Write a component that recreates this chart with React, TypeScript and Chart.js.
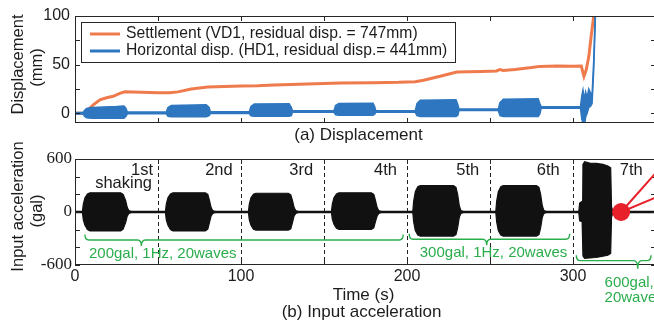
import React, { useEffect, useRef } from 'react';
import { Chart, registerables } from 'chart.js';

Chart.register(...registerables);

// ---------------- data ----------------
const xTickValues = [0, 50, 100, 150, 200, 250, 300, 350];
const xTickLabels = ['0', '', '100', '', '200', '', '300', ''];
const dispTickValues = [0, 25, 50, 75, 100];
const dispTickLabels = ['0', '', '50', '', '100'];
const accTickValues = [-600, -400, -200, 0, 200, 400, 600];
const accTickLabels = ['-600', '', '', '0', '', '', '600'];

// Settlement VD1 (mm)
const settleTime = [0, 6, 8, 11, 15, 19, 23, 27, 30, 40, 50, 57, 62, 70, 80, 90, 100, 110, 120, 130, 140, 150, 160, 180, 195, 205, 210, 220, 230, 245, 254, 256, 258, 265, 275, 280, 290, 300, 305, 306.6, 308, 309.5, 311, 312.5, 314];
const settleValue = [0, 0, 3.5, 8.7, 13.8, 16, 17.5, 20.5, 22, 21.5, 21, 21, 22, 25, 27, 27.5, 28, 28.3, 29, 29.5, 30, 30.5, 31, 31.5, 31.8, 32.5, 34, 38, 42.5, 43, 43.5, 45, 44, 45, 47, 48.2, 48.5, 48.3, 48.5, 38, 45, 58, 80, 100, 130];

// Horizontal disp. HD1 (mm): upper / lower envelope of the oscillating record
const horizTime = [0, 5, 5.7, 7, 10, 25, 29.5, 30.7, 31.5, 55, 56, 58, 79, 80.8, 81.5, 105, 106, 108, 129, 130.3, 131, 156, 157, 159, 179.5, 180.5, 181.2, 205, 206, 208, 229.5, 230.6, 231.3, 255, 256, 258, 279, 280, 280.8, 304.5, 305.3, 306, 306.8, 307.6, 308.5, 309.5, 310.5, 311.5, 312.5, 313.8];
const horizUpper = [0.8, 0.8, 3, 5, 6, 7, 7.5, 5, 1.2, 1.2, 6, 8, 8.7, 6, 1.5, 1.5, 7, 9.5, 9.7, 6, 2.6, 2.6, 8, 10, 10.4, 7, 2.6, 2.6, 10, 13.5, 13.8, 9, 4.4, 4.4, 11, 14.5, 14.9, 10, 6.8, 6.8, 18, 24, 14, 22, 16, 25, 21, 19, 55, 125];
const horizLower = [-0.8, -0.8, -3, -4.5, -5, -5, -5, -3, -0.6, -0.6, -3, -3.5, -3.5, -2.5, -0.3, -0.3, -2.5, -3, -3, -2.5, 1.0, 1.0, -1.5, -2, -2, -1, 1.0, 1.0, -2.5, -3.3, -3.3, -2, 2.8, 2.8, -2.5, -3.3, -3.3, -1, 5.2, 5.2, -6, -10, -14, -4, 0, 6, 7, 10, 45, 115];

// Input acceleration (gal): upper / lower envelope
const accTime = [0, 4.5, 5, 6, 7.5, 9, 27.5, 29, 30.5, 31.5, 32.5, 34,
  54.5, 55, 56, 57.5, 59, 78.5, 80, 81, 82, 83, 84.5,
  104.5, 105, 106, 107.5, 109, 128.5, 130, 131, 132, 133, 134.5,
  154.5, 155, 156, 157.5, 159, 178.5, 180, 181, 182, 183, 184.5,
  203.5, 204, 205, 206.5, 208, 228, 229.5, 230.5, 231.5, 232.5, 234,
  253.5, 254, 255, 256.5, 258, 278, 279.5, 280.5, 281.5, 282.5, 284,
  303.5, 304, 305.5, 306, 307, 310, 314, 318, 321, 322.7, 323.2, 324, 350];
const accUpper = [8, 8, 90, 160, 205, 218, 218, 200, 130, 50, 15, 8,
  8, 90, 160, 205, 218, 218, 200, 130, 50, 15, 8,
  8, 90, 160, 200, 212, 212, 195, 130, 50, 15, 8,
  8, 90, 160, 205, 218, 218, 200, 130, 50, 15, 8,
  8, 120, 230, 285, 298, 298, 280, 200, 70, 15, 8,
  8, 120, 230, 285, 298, 298, 280, 200, 70, 15, 8,
  8, 100, 120, 540, 570, 555, 550, 540, 520, 500, 60, 8, 8];
const accLower = [-8, -8, -90, -150, -200, -215, -215, -195, -120, -45, -15, -8,
  -8, -90, -150, -200, -215, -215, -195, -120, -45, -15, -8,
  -8, -90, -150, -195, -205, -205, -190, -120, -45, -15, -8,
  -8, -80, -140, -185, -196, -196, -180, -110, -45, -15, -8,
  -8, -110, -210, -260, -272, -272, -255, -180, -60, -15, -8,
  -8, -110, -210, -260, -272, -272, -255, -180, -60, -15, -8,
  -8, -100, -110, -500, -524, -520, -515, -500, -490, -470, -60, -8, -8];

const shakingNames = ['1st', '2nd', '3rd', '4th', '5th', '6th', '7th'];
const shakingLabelX = [47, 95, 143.5, 194, 243.5, 292, 342];
const shakingDividers = [50, 100, 150, 200, 250, 300];

const braceFrom = [6, 201.3, 302];
const braceTo = [197.7, 298, 347];
const braceTip = [40, 248, 339];
const braceLevel = [-317, -309, -551];
const braceTextX = [8.4, 207.7, 319];
const braceTexts = [['200gal, 1Hz, 20waves'], ['300gal, 1Hz, 20waves'], ['600gal, 1Hz,', '20waves']];

const markerX = 329;
const markerY = 0;
const markerRayEndX = 350;
const markerRayEndY = [445, 166];

const legendLabels = ['Settlement (VD1, residual disp. = 747mm)', 'Horizontal disp. (HD1, residual disp.= 441mm)'];

// ---------------- styles ----------------
const SANS = '"Liberation Sans", Arial, Helvetica, sans-serif';
const SERIF = '"Liberation Serif", "Times New Roman", serif';
const INK = '#1c1c1c';
const ORANGE = '#ef7b4d';
const BLUE = '#2e77c0';
const GREEN = '#2aae4c';
const RED = '#e8202a';

function pts(xs: number[], ys: number[]) {
  return xs.map((x, i) => ({ x, y: ys[i] }));
}

function text(ctx: CanvasRenderingContext2D, s: string, x: number, y: number, font: string, color: string, align: CanvasTextAlign = 'center', rot = 0) {
  ctx.save();
  ctx.font = font;
  ctx.fillStyle = color;
  ctx.textAlign = align;
  ctx.textBaseline = 'middle';
  ctx.translate(x, y);
  if (rot) ctx.rotate(rot);
  ctx.fillText(s, 0, 0);
  ctx.restore();
}

function drawFrame(ctx: CanvasRenderingContext2D, a: any, xs: any, ys: any, yv: number[]) {
  ctx.save();
  ctx.strokeStyle = '#262626';
  ctx.lineWidth = 1;
  ctx.strokeRect(a.left + 0.5, a.top + 0.5, a.right - a.left - 1, a.bottom - a.top - 1);
  ctx.beginPath();
  const L = 5;
  xTickValues.forEach((v) => {
    const px = Math.round(xs.getPixelForValue(v)) + 0.5;
    ctx.moveTo(px, a.bottom);
    ctx.lineTo(px, a.bottom - L);
    ctx.moveTo(px, a.top);
    ctx.lineTo(px, a.top + L);
  });
  yv.forEach((v) => {
    const py = Math.round(ys.getPixelForValue(v)) + 0.5;
    ctx.moveTo(a.left, py);
    ctx.lineTo(a.left + L, py);
    ctx.moveTo(a.right, py);
    ctx.lineTo(a.right - L, py);
  });
  ctx.stroke();
  ctx.restore();
}

function xScale(afterFitH: number, showLabels: boolean) {
  return {
    type: 'linear',
    min: 0,
    max: 350,
    grid: { display: false, drawTicks: false },
    border: { display: false },
    ticks: {
      display: showLabels,
      autoSkip: false,
      maxRotation: 0,
      padding: 2,
      color: INK,
      font: { family: SANS, size: 16 },
      callback: (_v: any, i: number) => xTickLabels[i],
    },
    afterBuildTicks: (s: any) => {
      s.ticks = xTickValues.map((v) => ({ value: v }));
    },
    afterFit: (s: any) => {
      s.height = afterFitH;
    },
  };
}

export default function App() {
  const topRef = useRef<HTMLCanvasElement>(null);
  const botRef = useRef<HTMLCanvasElement>(null);

  useEffect(() => {
    document.body.style.margin = '0';

    const topDecor = {
      id: 'topDecor',
      afterDraw(chart: any) {
        const { ctx, chartArea: a, scales } = chart;
        drawFrame(ctx, a, scales.x, scales.y, dispTickValues);
        // legend
        const lx = a.left + 6;
        const ly = a.top + 6;
        ctx.save();
        ctx.fillStyle = '#fff';
        ctx.fillRect(lx, ly, 374, 40);
        ctx.strokeStyle = '#262626';
        ctx.lineWidth = 1;
        ctx.strokeRect(lx + 0.5, ly + 0.5, 374, 40);
        const colors = [ORANGE, BLUE];
        colors.forEach((c, i) => {
          const yy = ly + 12 + i * 17;
          ctx.strokeStyle = c;
          ctx.lineWidth = 3;
          ctx.beginPath();
          ctx.moveTo(lx + 9, yy);
          ctx.lineTo(lx + 39, yy);
          ctx.stroke();
          text(ctx, legendLabels[i], lx + 45, yy, `15.7px ${SANS}`, INK, 'left');
        });
        ctx.restore();
        // axis titles
        const cy = (a.top + a.bottom) / 2 - 5;
        text(ctx, 'Displacement', 18, cy, `16.5px ${SANS}`, INK, 'center', -Math.PI / 2);
        text(ctx, '(mm)', 37, cy + 3, `16.5px ${SANS}`, INK, 'center', -Math.PI / 2);
        text(ctx, '(a) Displacement', (a.left + a.right) / 2 - 7, a.bottom + 12, `17px ${SANS}`, INK, 'center');
      },
    };

    const botDecor = {
      id: 'botDecor',
      beforeDatasetsDraw(chart: any) {
        const { ctx, chartArea: a, scales } = chart;
        ctx.save();
        ctx.strokeStyle = '#222';
        ctx.lineWidth = 1;
        ctx.setLineDash([4, 3]);
        ctx.beginPath();
        shakingDividers.forEach((v) => {
          const px = Math.round(scales.x.getPixelForValue(v)) + 0.5;
          ctx.moveTo(px, a.top);
          ctx.lineTo(px, a.bottom);
        });
        ctx.stroke();
        ctx.restore();
      },
      afterDraw(chart: any) {
        const { ctx, chartArea: a, scales } = chart;
        const xs = scales.x;
        const ys = scales.y;
        drawFrame(ctx, a, xs, ys, accTickValues);
        // shaking labels
        shakingNames.forEach((n, i) => {
          text(ctx, n, xs.getPixelForValue(shakingLabelX[i]), a.top + 11.5, `16.5px ${SANS}`, INK, 'right');
        });
        text(ctx, 'shaking', xs.getPixelForValue(shakingLabelX[0]) - 1, a.top + 24.5, `16.5px ${SANS}`, INK, 'right');
        // braces
        ctx.save();
        ctx.strokeStyle = GREEN;
        ctx.lineWidth = 1.4;
        braceFrom.forEach((f, i) => {
          const x1 = xs.getPixelForValue(f);
          const x2 = xs.getPixelForValue(braceTo[i]);
          const xc = xs.getPixelForValue(braceTip[i]);
          const yl = ys.getPixelForValue(braceLevel[i]);
          const hE = 5.5;
          const hT = i === 2 ? 8 : 6;
          const r = 4;
          ctx.beginPath();
          ctx.moveTo(x1, yl - hE);
          ctx.quadraticCurveTo(x1, yl, x1 + r, yl);
          ctx.lineTo(xc - r, yl);
          ctx.quadraticCurveTo(xc, yl, xc, yl + hT);
          ctx.quadraticCurveTo(xc, yl, xc + r, yl);
          ctx.lineTo(x2 - r, yl);
          ctx.quadraticCurveTo(x2, yl, x2, yl - hE);
          ctx.stroke();
          braceTexts[i].forEach((s, k) => {
            const ty = i === 2 ? yl + 22.5 + k * 15 : yl + 13.5;
            text(ctx, s, xs.getPixelForValue(braceTextX[i]), ty, `15px ${SANS}`, GREEN, 'left');
          });
        });
        ctx.restore();
        // red marker with rays
        const mx = xs.getPixelForValue(markerX);
        const my = ys.getPixelForValue(markerY);
        ctx.save();
        ctx.strokeStyle = RED;
        ctx.lineWidth = 2;
        ctx.beginPath();
        markerRayEndY.forEach((ey) => {
          ctx.moveTo(mx, my);
          ctx.lineTo(xs.getPixelForValue(markerRayEndX), ys.getPixelForValue(ey));
        });
        ctx.stroke();
        ctx.fillStyle = RED;
        ctx.beginPath();
        ctx.arc(mx, my, 9, 0, Math.PI * 2);
        ctx.fill();
        ctx.restore();
        // titles
        const cy = (a.top + a.bottom) / 2;
        text(ctx, 'Input acceleration', 18, cy - 5.5, `16.5px ${SANS}`, INK, 'center', -Math.PI / 2);
        text(ctx, '(gal)', 37, cy - 1, `16.5px ${SANS}`, INK, 'center', -Math.PI / 2);
        text(ctx, 'Time (s)', (a.left + a.right) / 2 - 2, a.bottom + 30, `17px ${SANS}`, INK, 'center');
        text(ctx, '(b) Input acceleration', (a.left + a.right) / 2 - 4, a.bottom + 47, `17px ${SANS}`, INK, 'center');
      },
    };

    const common = {
      animation: false,
      responsive: false,
      events: [],
    };

    const topChart = new Chart(topRef.current as HTMLCanvasElement, {
      type: 'line',
      data: {
        datasets: [
          {
            label: 'HD1 upper',
            data: pts(horizTime, horizUpper),
            borderColor: BLUE,
            backgroundColor: BLUE,
            borderWidth: 1.5,
            pointRadius: 0,
            tension: 0,
            fill: false,
            order: 0,
          },
          {
            label: 'HD1 lower',
            data: pts(horizTime, horizLower),
            borderColor: BLUE,
            backgroundColor: BLUE,
            borderWidth: 1.5,
            pointRadius: 0,
            tension: 0,
            fill: '-1',
            order: 1,
          },
          {
            label: 'VD1',
            data: pts(settleTime, settleValue),
            borderColor: ORANGE,
            backgroundColor: ORANGE,
            borderWidth: 3,
            pointRadius: 0,
            tension: 0,
            fill: false,
            order: 2,
          },
        ],
      },
      options: {
        ...common,
        layout: { padding: { left: 0, top: 16, right: 6, bottom: 203 } },
        plugins: { legend: { display: false }, tooltip: { enabled: false } },
        scales: {
          x: xScale(0, false),
          y: {
            type: 'linear',
            min: -10,
            max: 100,
            grid: { display: false, drawTicks: false },
            border: { display: false },
            ticks: {
              autoSkip: false,
              padding: 5,
              color: INK,
              font: { family: SANS, size: 16 },
              callback: (_v: any, i: number) => dispTickLabels[i],
            },
            afterBuildTicks: (s: any) => {
              s.ticks = dispTickValues.map((v) => ({ value: v }));
            },
            afterFit: (s: any) => {
              s.width = 75;
            },
          },
        },
      },
      plugins: [topDecor],
    } as any);

    const botChart = new Chart(botRef.current as HTMLCanvasElement, {
      type: 'line',
      data: {
        datasets: [
          {
            label: 'acc upper',
            data: pts(accTime, accUpper),
            borderColor: '#111',
            backgroundColor: '#111',
            borderWidth: 1.2,
            pointRadius: 0,
            tension: 0,
            fill: false,
          },
          {
            label: 'acc lower',
            data: pts(accTime, accLower),
            borderColor: '#111',
            backgroundColor: '#111',
            borderWidth: 1.2,
            pointRadius: 0,
            tension: 0,
            fill: '-1',
          },
        ],
      },
      options: {
        ...common,
        layout: { padding: { left: 0, top: 159, right: 6, bottom: 31 } },
        plugins: { legend: { display: false }, tooltip: { enabled: false } },
        scales: {
          x: xScale(30, true),
          y: {
            type: 'linear',
            min: -600,
            max: 600,
            grid: { display: false, drawTicks: false },
            border: { display: false },
            ticks: {
              autoSkip: false,
              padding: 3,
              color: INK,
              font: { family: SERIF, size: 17 },
              callback: (_v: any, i: number) => accTickLabels[i],
            },
            afterBuildTicks: (s: any) => {
              s.ticks = accTickValues.map((v) => ({ value: v }));
            },
            afterFit: (s: any) => {
              s.width = 75;
            },
          },
        },
      },
      plugins: [botDecor],
    } as any);

    return () => {
      topChart.destroy();
      botChart.destroy();
    };
  }, []);

  return (
    <div style={{ position: 'relative', width: 654, height: 326, overflow: 'hidden', background: '#fff' }}>
      <canvas ref={topRef} width={662} height={326} style={{ position: 'absolute', left: 0, top: 0 }} />
      <canvas ref={botRef} width={662} height={326} style={{ position: 'absolute', left: 0, top: 0 }} />
    </div>
  );
}
